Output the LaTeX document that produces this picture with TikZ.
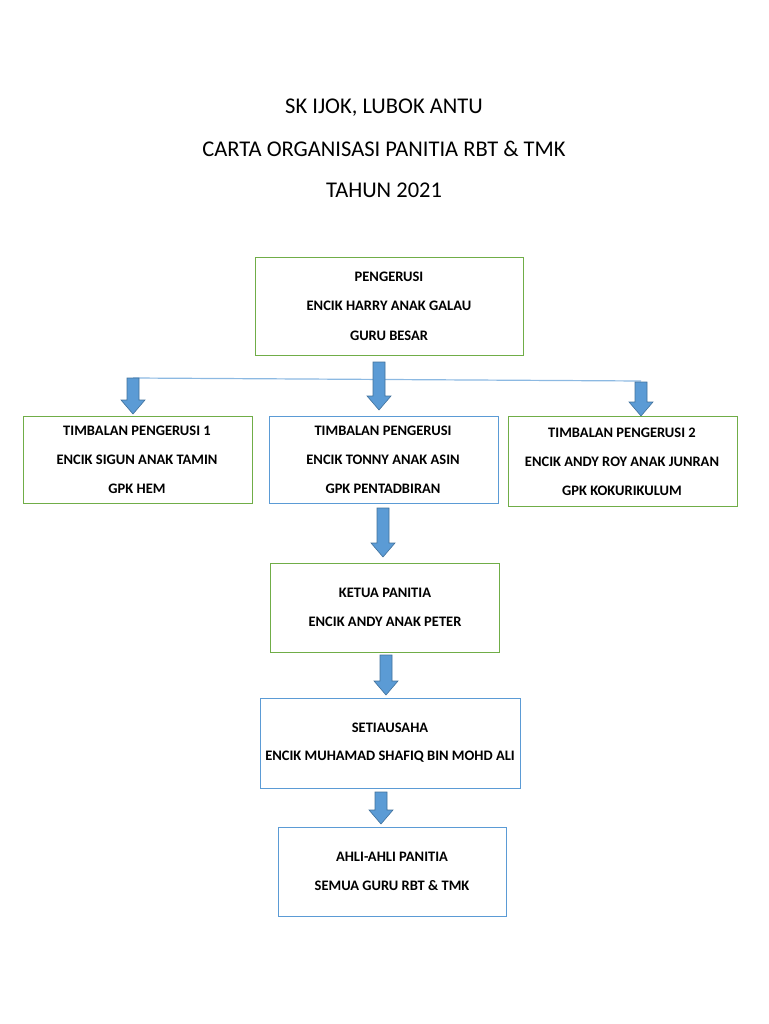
\documentclass[tikz,border=0pt]{standalone}
\usepackage{fontspec}
\setmainfont{Carlito}
\definecolor{gbox}{HTML}{70AD47}
\definecolor{bbox}{HTML}{5B9BD5}
\definecolor{afill}{HTML}{5B9BD5}
\definecolor{aline}{HTML}{41719C}
\newcommand\blkarrow[3]{% x, ytop, ybottom
  \draw[barr] (#1-6,#2) -- (#1+6,#2) -- (#1+6,#3-14) -- (#1+12,#3-14) -- (#1,#3)
    -- (#1-12,#3-14) -- (#1-6,#3-14) -- cycle;}
\begin{document}
\begin{tikzpicture}[x=1pt,y=-1pt,
  box/.style={draw=#1,line width=0.9pt},
  t/.style={font=\fontsize{14.5}{17}\selectfont\bfseries,anchor=center},
  ti/.style={font=\fontsize{22.5}{27}\selectfont,anchor=center},
  barr/.style={draw=aline,fill=afill,line width=0.6pt,line join=miter}]
\useasboundingbox (0,0) rectangle (768,1024);
\node[ti] (t1) at (384,108) {SK IJOK, LUBOK ANTU};
\node[ti] (t2) at (384,149) {CARTA ORGANISASI PANITIA RBT \& TMK};
\node[ti] (t3) at (384,190) {TAHUN 2021};
% boxes
\draw[box=gbox] (255,257) rectangle (523,355);
\node[t] (p1) at (389,277) {PENGERUSI};
\node[t] (p2) at (389,306) {ENCIK HARRY ANAK GALAU};
\node[t] (p3) at (389,336) {GURU BESAR};
\draw[box=gbox] (23,416) rectangle (252,503);
\node[t] at (137,431) {TIMBALAN PENGERUSI 1};
\node[t] at (137,460) {ENCIK SIGUN ANAK TAMIN};
\node[t] at (137,489) {GPK HEM};
\draw[box=bbox] (269,416) rectangle (498,503);
\node[t] at (383,431) {TIMBALAN PENGERUSI};
\node[t] at (383,460) {ENCIK TONNY ANAK ASIN};
\node[t] at (383,489) {GPK PENTADBIRAN};
\draw[box=gbox] (508,416) rectangle (737,506);
\node[t] at (622,433) {TIMBALAN PENGERUSI 2};
\node[t] at (622,462) {ENCIK ANDY ROY ANAK JUNRAN};
\node[t] at (622,491) {GPK KOKURIKULUM};
\draw[box=gbox] (270,563) rectangle (499,652);
\node[t] at (385,593) {KETUA PANITIA};
\node[t] at (385,622) {ENCIK ANDY ANAK PETER};
\draw[box=bbox] (260,698) rectangle (520,788);
\node[t] at (390,728) {SETIAUSAHA};
\node[t] at (390,757) {ENCIK MUHAMAD SHAFIQ BIN MOHD ALI};
\draw[box=bbox] (278,827) rectangle (506,916);
\node[t] at (392,857) {AHLI-AHLI PANITIA};
\node[t] at (392,886) {SEMUA GURU RBT \& TMK};
% connector line
\coordinate (l1) at (133,378);
\coordinate (l2) at (641,381);
\draw[bbox!70,line width=1.2pt] (l1) -- (l2);
% block arrows
\blkarrow{379}{362}{410}
\blkarrow{133}{378}{414}
\blkarrow{641}{382}{416}
\blkarrow{383}{508}{557}
\blkarrow{386}{655}{695}
\blkarrow{381}{792}{824}
\end{tikzpicture}
\end{document}
